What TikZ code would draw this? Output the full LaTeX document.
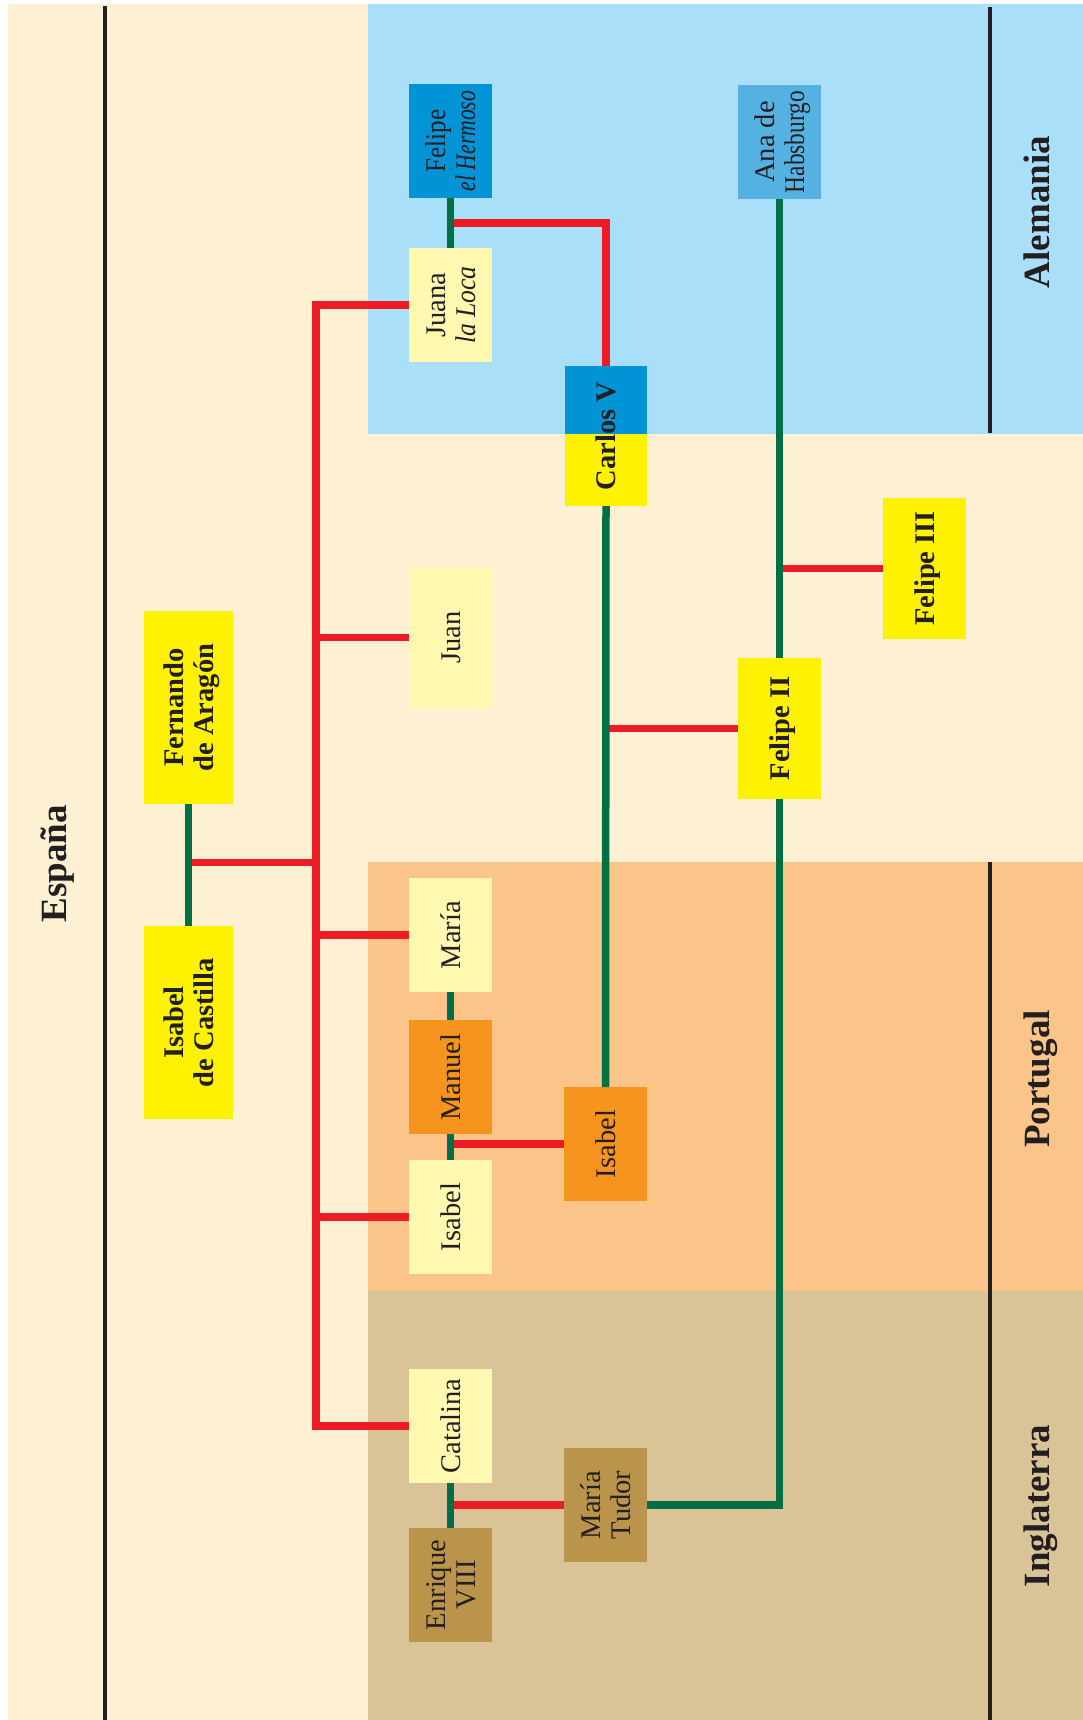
\documentclass[tikz,border=0pt]{standalone}
\usepackage{fontspec}
\setmainfont{Liberation Serif}
\usetikzlibrary{calc}
\definecolor{cream}{HTML}{FEF0D2}
\definecolor{regblue}{HTML}{A9DFF9}
\definecolor{regorange}{HTML}{FBC589}
\definecolor{regtan}{HTML}{DBC398}
\definecolor{boxblue}{HTML}{0093D6}
\definecolor{boxana}{HTML}{56B1E3}
\definecolor{boxpale}{HTML}{FFF8B0}
\definecolor{boxyellow}{HTML}{FFF200}
\definecolor{boxorange}{HTML}{F7941E}
\definecolor{boxtan}{HTML}{BA944A}
\definecolor{linered}{HTML}{ED1C24}
\definecolor{linegreen}{HTML}{006F45}
\definecolor{ink}{HTML}{231F20}
\newcommand\boxtxt[1]{\rotatebox{90}{\raisebox{-3.5pt}[\height][\depth]{\fontsize{28.5}{30}\selectfont\begin{tabular}{@{}c@{}}#1\end{tabular}}}}
\newcommand\regtxt[1]{\rotatebox{90}{\fontsize{37}{40}\selectfont\bfseries\vphantom{Ag}#1}}
\newcommand\cond[2]{\scalebox{#1}[1]{#2}}
\begin{document}
\begin{tikzpicture}[x=1pt,y=-1pt,
  famb/.style={rectangle, inner sep=0pt, outer sep=0pt, minimum width=83pt, minimum height=114pt, text=ink},
  tallb/.style={famb, minimum height=141pt},
  kingb/.style={famb, minimum width=89pt, minimum height=193pt},
  reglabel/.style={inner sep=0pt, text=ink},
  redline/.style={draw=linered, line width=7.5pt},
  greenline/.style={draw=linegreen, line width=7.5pt},
  borderline/.style={draw=ink, line width=3.8pt}]
\useasboundingbox (0,0) rectangle (1083,1720);
\fill[white] (0,0) rectangle (1083,1720);
\fill[cream] (8,4) rectangle (1083,1720);
\fill[regblue] (368,4) rectangle (1083,434);
\fill[regorange] (368,862) rectangle (1083,1291);
\fill[regtan] (368,1291) rectangle (1083,1720);
\draw[borderline] (105,6) -- (105,1720);
\draw[borderline] (990,7) -- (990,433);
\draw[borderline] (990,862) -- (990,1720);

\node[reglabel] (espana) at (58,864) {\regtxt{España}};
\node[reglabel] (alemania) at (1041,212) {\regtxt{Alemania}};
\node[reglabel] (portugal) at (1041,1079) {\regtxt{Portugal}};
\node[reglabel] (inglaterra) at (1041,1506) {\regtxt{Inglaterra}};

% boxes
\node[famb, fill=boxblue] (felipeH) at (450.5,141) {\boxtxt{\cond{0.88}{Felipe}\\\cond{0.76}{\textit{el Hermoso}}}};
\node[famb, fill=boxana] (ana) at (779.5,142) {\boxtxt{Ana de\\\cond{0.82}{Habsburgo}}};
\node[famb, fill=boxpale] (juana) at (450.5,305) {\boxtxt{Juana\\\cond{0.9}{\textit{la Loca}}}};
\node[famb, minimum width=82pt, minimum height=140pt, fill=boxyellow,
  path picture={\fill[boxblue] (path picture bounding box.north west) rectangle ([yshift=2pt]path picture bounding box.east);}]
  (carlos) at (606,436) {\boxtxt{\bfseries Carlos V}};
\node[tallb, fill=boxyellow] (felipe3) at (924.5,568.5) {\boxtxt{\bfseries Felipe III}};
\node[tallb, fill=boxpale] (juan) at (450.5,637.5) {\boxtxt{Juan}};
\node[kingb, fill=boxyellow] (fernando) at (188.5,707.5) {\boxtxt{\bfseries Fernando\\\bfseries de Aragón}};
\node[tallb, fill=boxyellow] (felipe2) at (779.5,728.5) {\boxtxt{\bfseries Felipe II}};
\node[kingb, fill=boxyellow] (isabelC) at (188.5,1022.5) {\boxtxt{\bfseries Isabel\\\bfseries de Castilla}};
\node[famb, fill=boxpale] (maria) at (450.5,935) {\boxtxt{María}};
\node[famb, fill=boxorange] (manuel) at (450.5,1077) {\boxtxt{Manuel}};
\node[famb, fill=boxorange] (isabelP) at (605.5,1144) {\boxtxt{Isabel}};
\node[famb, fill=boxpale] (isabel) at (450.5,1217) {\boxtxt{Isabel}};
\node[famb, fill=boxpale] (catalina) at (450.5,1426) {\boxtxt{Catalina}};
\node[famb, fill=boxtan] (mariaT) at (605.5,1505) {\boxtxt{María\\Tudor}};
\node[famb, fill=boxtan] (enrique) at (450.5,1585) {\boxtxt{Enrique\\VIII}};

% marriage points
\coordinate (fi) at ($(fernando.south)!0.48!(isabelC.north)$);
\coordinate (trunk) at (316,0 |- fi);
\coordinate (fj) at ($(felipeH.south)!0.5!(juana.north)$);
\coordinate (mi) at ($(manuel.south)!0.5!(isabel.north)$);
\coordinate (ce) at ($(catalina.south)!0.5!(enrique.north)$);

% red descent lines
\draw[redline] (fi) -- (trunk);
\draw[redline] (juana.west) -| (trunk) |- (catalina.west);
\draw[redline] (trunk |- juan.west) -- (juan.west);
\draw[redline] (trunk |- maria.west) -- (maria.west);
\draw[redline] (trunk |- isabel.west) -- (isabel.west);
\draw[redline] (fj) -| (carlos.north);
\draw[redline] (mi |- isabelP.west) -- (isabelP.west);
\draw[redline] (ce |- mariaT.west) -- (mariaT.west);
\draw[redline] (carlos.south |- felipe2.west) -- (felipe2.west);
\draw[redline] (ana.south |- felipe3.west) -- (felipe3.west);

% green marriage lines
\draw[greenline] (fernando.south) -- (isabelC.north);
\draw[greenline] (felipeH.south) -- (juana.north);
\draw[greenline] (maria.south) -- (manuel.north);
\draw[greenline] (manuel.south) -- (isabel.north);
\draw[greenline] (catalina.south) -- (enrique.north);
\draw[greenline] (carlos.south) -- (isabelP.north);
\draw[greenline] (ana.south) -- (felipe2.north);
\draw[greenline] (felipe2.south) |- (mariaT.east);
\end{tikzpicture}
\end{document}
